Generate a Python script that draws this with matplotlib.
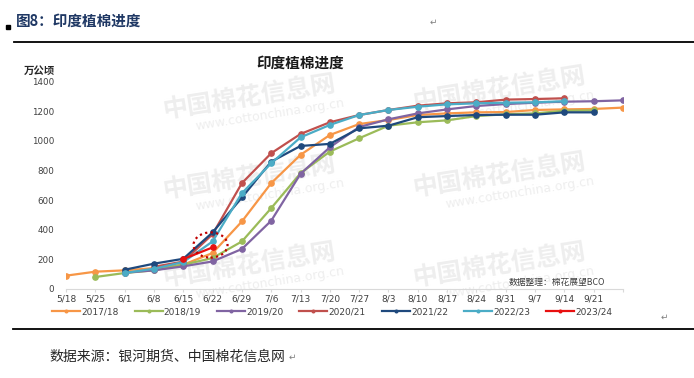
import numpy as np
import matplotlib
matplotlib.use("Agg")
import matplotlib.pyplot as plt
from matplotlib.patches import Ellipse, Rectangle
from matplotlib.lines import Line2D

plt.rcParams['font.family'] = ['DejaVu Sans', 'Noto Sans CJK SC']
CJK = ['Noto Sans CJK SC', 'DejaVu Sans']

nan = np.nan
weeks = ['5/18', '5/25', '6/1', '6/8', '6/15', '6/22', '6/29', '7/6', '7/13', '7/20',
         '7/27', '8/3', '8/10', '8/17', '8/24', '8/31', '9/7', '9/14', '9/21', '9/28']
week_labels = weeks[:-1] + ['']

s2017 = [90, 117, 126, 141, 164, 243, 456, 715, 906, 1040,
         1114, 1141, 1175, 1186, 1193, 1195, 1209, 1213, 1216, 1225]
s2018 = [nan, 81, 108, 126, 164, 209, 321, 546, 782, 928,
         1018, 1103, 1126, 1139, 1168, 1180, 1186, 1204, 1206, nan]
s2019 = [nan, nan, 110, 126, 153, 186, 270, 461, 778, 957,
         1094, 1146, 1186, 1213, 1236, 1249, 1258, 1265, 1268, 1274]
s2020 = [nan, nan, nan, 150, 185, 370, 715, 917, 1047, 1126,
         1175, 1209, 1238, 1254, 1261, 1279, 1283, 1288, nan, nan]
s2021 = [nan, nan, 130, 171, 204, 382, 618, 860, 966, 980,
         1085, 1103, 1160, 1168, 1175, 1177, 1177, 1193, 1193, nan]
s2022 = [nan, nan, 108, 137, 182, 321, 647, 849, 1024, 1108,
         1175, 1209, 1231, 1247, 1254, 1258, 1261, 1268, nan, nan]
s2023 = [nan, nan, nan, nan, 202, 281, nan, nan, nan, nan,
         nan, nan, nan, nan, nan, nan, nan, nan, nan, nan]

series = [('2017/18', s2017, '#F79646'),
          ('2018/19', s2018, '#9BBB59'),
          ('2019/20', s2019, '#8064A2'),
          ('2020/21', s2020, '#C0504D'),
          ('2021/22', s2021, '#1F497D'),
          ('2022/23', s2022, '#4BACC6'),
          ('2023/24', s2023, '#E81010')]

W, H = 694, 378
fig = plt.figure(figsize=(W / 100, H / 100), dpi=100)

def fx(px):
    return px / W

def fy(py):
    return 1 - py / H

# faint watermarks of the source image
for cx, cy in [(250, 98), (250, 178), (250, 266), (500, 90), (500, 176), (500, 266)]:
    fig.text(fx(cx), fy(cy), '中国棉花信息网', family=CJK, fontsize=18, fontweight='bold',
             color='#EEEEEE', rotation=9, ha='center', va='center', zorder=-5)
    fig.text(fx(cx + 20), fy(cy + 17), 'www.cottonchina.org.cn', fontsize=9,
             color='#EEEEEE', rotation=9, ha='center', va='center', zorder=-5)

ax = fig.add_axes([fx(66), fy(289), fx(623) - fx(66), fy(81.7) - fy(289)])
ax.set_facecolor('none')
x = np.arange(len(weeks))
for name, vals, col in series:
    ax.plot(x, vals, color=col, lw=1.6, marker='o', markersize=3.8, label=name)

ax.add_patch(Ellipse((4.93, 297), 1.16, 170, fill=False, ls=(0, (1, 1.5)),
                     lw=1.6, edgecolor='#C00000', zorder=5))

ax.set_xlim(0, len(weeks) - 1)
ax.set_ylim(0, 1400)
ax.set_xticks(x)
ax.set_xticklabels(week_labels)
ax.set_yticks(np.arange(0, 1401, 200))
for s in ['top', 'right', 'left']:
    ax.spines[s].set_visible(False)
ax.spines['bottom'].set_color('#D9D9D9')
ax.tick_params(axis='x', length=2.5, color='#D9D9D9', labelsize=6.5, pad=1.5,
               labelcolor='#404040')
ax.tick_params(axis='y', length=0, labelsize=6.3, pad=8.5, labelcolor='#404040')

fig.text(fx(300), fy(62.5), '印度植棉进度', family=CJK, fontsize=10.5, fontweight='bold',
         ha='center', va='center', color='#1A1A1A')
fig.text(fx(39), fy(70.5), '万公顷', family=CJK, fontsize=7.5, fontweight='bold',
         ha='center', va='center', color='#262626')
fig.text(fx(605), fy(283), '数据整理：棉花展望BCO', family=CJK, fontsize=6.3,
         ha='right', va='center', color='#404040')

fig.legend(*ax.get_legend_handles_labels(), loc='center left',
           bbox_to_anchor=(fx(52), fy(311.7)), ncol=7, frameon=False,
           fontsize=6.5, handlelength=3.1, handletextpad=0.15, columnspacing=1.75,
           borderpad=0, borderaxespad=0, numpoints=1, markerscale=0.5,
           labelcolor='#404040')

# document frame around the chart
fig.text(fx(16), fy(20.7), '图8：印度植棉进度', family=CJK, fontsize=10.5,
         fontweight='bold', color='#1F3864', ha='left', va='center')
fig.patches.append(Rectangle((fx(6), fy(29)), fx(4), fy(25) - fy(29),
                             transform=fig.transFigure, color='black'))
fig.lines.append(Line2D([fx(14), 1], [fy(41.5), fy(41.5)], transform=fig.transFigure,
                        color='black', lw=1.3))
fig.lines.append(Line2D([fx(13), 1], [fy(329), fy(329)], transform=fig.transFigure,
                        color='black', lw=1.3))
fig.text(fx(433), fy(21.7), '↵', fontsize=6.5, color='#808080', ha='center', va='center')
fig.text(fx(664), fy(317), '↵', fontsize=6.5, color='#808080', ha='center', va='center')
fig.text(fx(49), fy(356.5), '数据来源：银河期货、中国棉花信息网', family=CJK, fontsize=10,
         color='#262626', ha='left', va='center')
fig.text(fx(292), fy(357), '↵', fontsize=6.5, color='#808080', ha='center', va='center')

fig.savefig('out.png', dpi=100)
